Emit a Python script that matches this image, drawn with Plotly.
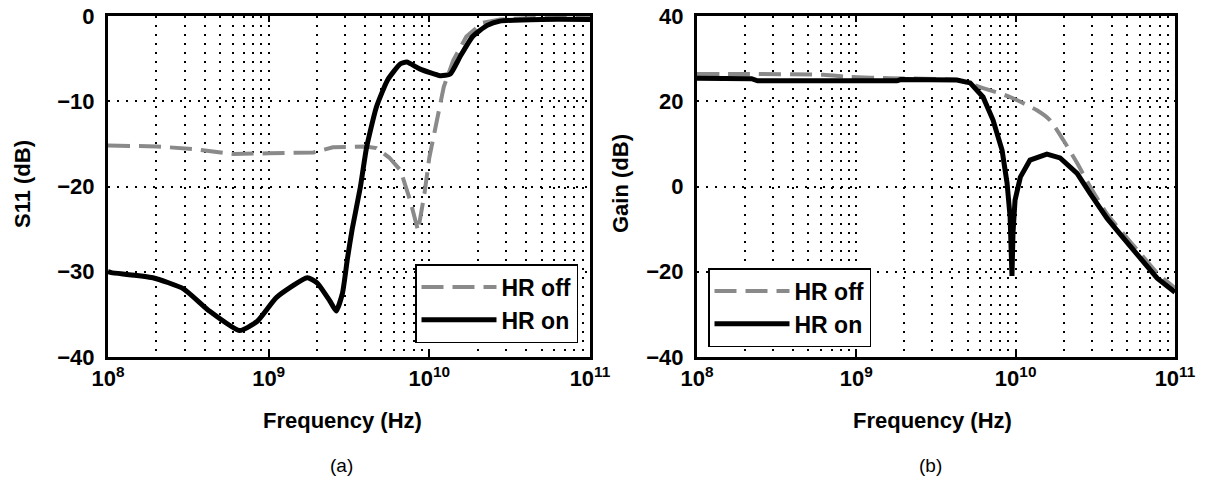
import plotly.graph_objects as go

# ---------------- data ----------------
# (a) S11 vs frequency
s11_off_ghz = [0.1, 0.2, 0.339, 0.603, 1.0, 1.905, 2.51, 4.0, 4.68, 5.62, 6.61, 7.59, 8.51, 9.33,
               10.0, 11.2, 12.3, 14.1, 17.0, 21.4, 27.5, 50.0, 100.0]
s11_off_db = [-15.2, -15.3, -15.6, -16.2, -16.1, -16.0, -15.4, -15.3, -15.5, -16.6, -18.1, -21.6, -25.2, -20.8,
              -16.6, -11.9, -8.3, -5.2, -2.4, -0.8, -0.4, -0.2, -0.2]

s11_on_ghz = [0.1, 0.105, 0.19, 0.295, 0.427, 0.66, 0.85, 1.12, 1.74, 2.0, 2.4, 2.63, 2.88, 3.09, 3.31,
              3.72, 4.07, 4.68, 5.5, 6.61, 7.24, 8.71, 11.7, 13.5, 15.5, 18.6, 22.9, 27.5, 50.0, 100.0]
s11_on_db = [-30.0, -30.1, -30.7, -32.0, -34.6, -36.9, -35.8, -33.0, -30.7, -31.3, -33.4, -34.6, -32.5, -28.5, -25.0,
             -20.1, -15.4, -10.7, -7.5, -5.6, -5.4, -6.2, -7.0, -6.8, -4.8, -2.4, -1.1, -0.6, -0.4, -0.4]

# (b) Gain vs frequency
gain_off_ghz = [0.1, 0.2, 0.62, 0.91, 1.62, 4.27, 6.24, 9.23, 13.6, 16.4, 19.9, 24.3, 29.3, 37.5, 47.2,
                60.3, 77.3, 100.0]
gain_off_db = [26.4, 26.4, 26.2, 25.7, 25.4, 25.0, 23.1, 21.0, 17.9, 15.6, 10.9, 5.5, 0.0, -6.5, -11.0,
               -15.6, -20.3, -23.8]

gain_on_ghz = [0.1, 0.22, 0.24, 1.8, 1.9, 4.28, 5.18, 6.24, 7.21, 8.22, 8.83, 9.23, 9.48, 9.62, 9.91,
               10.7, 12.3, 15.7, 19.0, 24.3, 29.3, 37.5, 47.2, 60.3, 77.3, 100.0]
gain_on_db = [25.4, 25.3, 24.8, 24.8, 25.1, 25.0, 24.3, 21.0, 15.6, 8.5, 0.8, -7.2, -21.0, -11.0, -3.2,
              2.2, 6.2, 7.6, 6.7, 3.1, -1.6, -7.5, -12.0, -16.6, -21.5, -24.8]

x_major = [1e8, 1e9, 1e10, 1e11]
x_major_text = ["10<sup>8</sup>", "10<sup>9</sup>", "10<sup>10</sup>", "10<sup>11</sup>"]
x_minor = [k * 10 ** e for e in (8, 9, 10) for k in range(2, 10)]

y1_ticks = [-40, -30, -20, -10, 0]
y1_text = ["\u221240", "\u221230", "\u221220", "\u221210", "0"]
y2_ticks = [-40, -20, 0, 20, 40]
y2_text = ["\u221240", "\u221220", "0", "20", "40"]

W, H = 1208, 480
FONT = "Liberation Sans, Arial, sans-serif"
GRAY = "#8a8a8a"
DASH = "22px,9px"
GRID_DASH = "2px,7px"


def hz(lst):
    return [v * 1e9 for v in lst]


fig = go.Figure()
fig.add_trace(go.Scatter(x=hz(s11_off_ghz), y=s11_off_db, name="HR off", mode="lines",
                         line=dict(color=GRAY, width=4, dash=DASH), xaxis="x", yaxis="y", legend="legend"))
fig.add_trace(go.Scatter(x=hz(s11_on_ghz), y=s11_on_db, name="HR on", mode="lines",
                         line=dict(color="black", width=5, shape="spline", smoothing=0.5),
                         xaxis="x", yaxis="y", legend="legend"))
fig.add_trace(go.Scatter(x=hz(gain_off_ghz), y=gain_off_db, name="HR off", mode="lines",
                         line=dict(color=GRAY, width=4, dash=DASH, shape="spline", smoothing=0.5),
                         xaxis="x2", yaxis="y2", legend="legend2"))
fig.add_trace(go.Scatter(x=hz(gain_on_ghz), y=gain_on_db, name="HR on", mode="lines",
                         line=dict(color="black", width=5),
                         xaxis="x2", yaxis="y2", legend="legend2"))

tickfont = dict(family=FONT, size=22, color="black", weight="bold")


def xaxis(domain, anchor):
    return dict(domain=domain, anchor=anchor, type="log", range=[8, 11], automargin=False,
                tickmode="array", tickvals=x_major, ticktext=x_major_text,
                showgrid=True, gridcolor="black", gridwidth=1.5, griddash=GRID_DASH,
                minor=dict(tickmode="array", tickvals=x_minor, showgrid=True, gridcolor="black",
                           gridwidth=1.5, griddash=GRID_DASH, ticks=""),
                showline=True, mirror="ticks", linecolor="black", linewidth=3,
                ticks="inside", ticklen=6, tickwidth=1.5, tickcolor="black",
                tickfont=tickfont, zeroline=False, fixedrange=True)


def yaxis(domain, anchor, rng, vals, text):
    return dict(domain=domain, anchor=anchor, range=rng, tickmode="array", tickvals=vals, ticktext=text,
                automargin=False,
                showgrid=True, gridcolor="black", gridwidth=1.5, griddash=GRID_DASH,
                showline=True, mirror=True, linecolor="black", linewidth=3,
                ticks="", tickfont=tickfont, zeroline=False, ticklabelstandoff=6, fixedrange=True)


ydom = [1 - 357 / H, 1 - 16 / H]
legfont = dict(family=FONT, size=23, color="black", weight="bold")

fig.update_layout(
    width=W, height=H, margin=dict(l=0, r=0, t=0, b=0, autoexpand=False),
    paper_bgcolor="white", plot_bgcolor="white",
    xaxis=xaxis([108 / W, 590 / W], "y"),
    yaxis=yaxis(ydom, "x", [-40, 0], y1_ticks, y1_text),
    xaxis2=xaxis([697 / W, 1175 / W], "y2"),
    yaxis2=yaxis(ydom, "x2", [-40, 40], y2_ticks, y2_text),
    legend=dict(x=578 / W, xanchor="right", y=1 - 343 / H, yanchor="bottom",
                bgcolor="white", bordercolor="black", borderwidth=1.5, font=legfont, itemwidth=75),
    legend2=dict(x=708 / W, xanchor="left", y=1 - 347 / H, yanchor="bottom",
                 bgcolor="white", bordercolor="black", borderwidth=1.5, font=legfont, itemwidth=75),
    showlegend=True,
)

title_font = dict(family=FONT, size=22, color="black", weight="bold")
annos = [
    dict(text="Frequency (Hz)", x=342 / W, y=1 - 420 / H, font=title_font),
    dict(text="Frequency (Hz)", x=932 / W, y=1 - 420 / H, font=title_font),
    dict(text="S11 (dB)", x=22 / W, y=1 - 184 / H, font=title_font, textangle=-90),
    dict(text="Gain (dB)", x=620 / W, y=1 - 184 / H, font=title_font, textangle=-90),
    dict(text="(a)", x=341 / W, y=1 - 465 / H, font=dict(family=FONT, size=19, color="black")),
    dict(text="(b)", x=930 / W, y=1 - 465 / H, font=dict(family=FONT, size=19, color="black")),
]
for a in annos:
    fig.add_annotation(xref="paper", yref="paper", xanchor="center", yanchor="middle", showarrow=False, **a)

fig.write_html("out.html")
